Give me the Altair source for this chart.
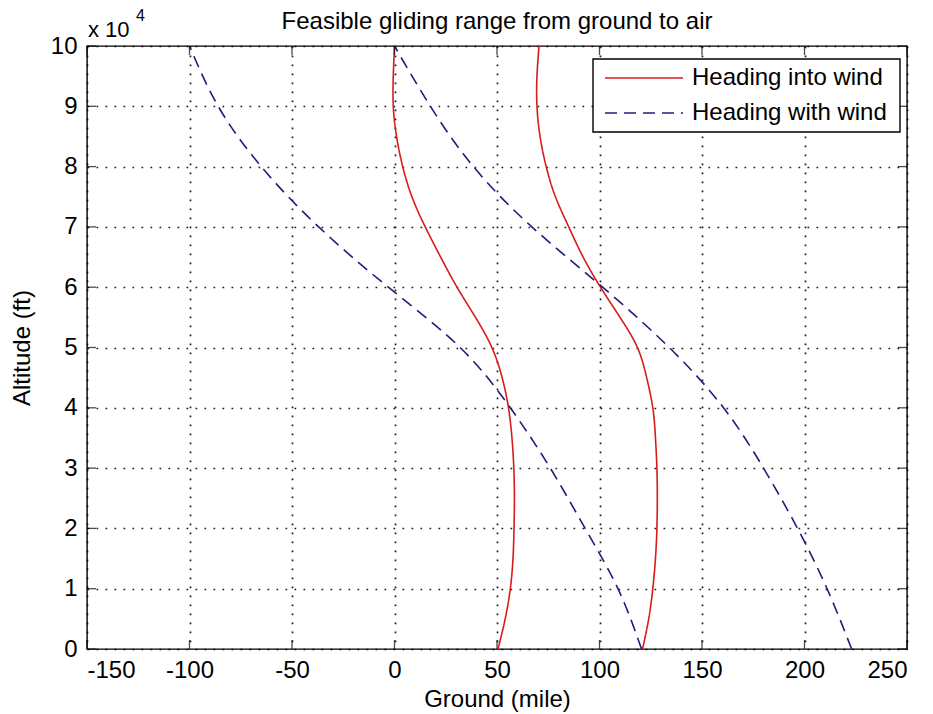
import altair as alt
import pandas as pd

# ---------------- data ----------------
alt_fine = list(range(0, 100001, 5000))          # altitude (ft) for red curves
red_left = [50.5, 54, 56.5, 57.8, 58.3, 58.5, 58.2, 57.3, 55.6, 52.5, 47.5,
            39.5, 30.5, 22.5, 15, 8.5, 4, 1, -0.6, -0.6, 0]
red_right = [121, 124, 126, 127.3, 128, 128.2, 128, 127.3, 126, 123, 118.5,
             110, 100.5, 92, 85, 78.5, 74, 71, 69.5, 69.5, 70.5]

alt_coarse = list(range(0, 100001, 10000))       # altitude (ft) for blue curves
blue_left = [120.5, 109, 93, 76, 56.5, 32, -3, -37, -65, -86, -100]
blue_right = [223, 211, 196.6, 180, 160.5, 134, 101.5, 67, 38.5, 17.5, 0]

series_names = ["Heading into wind", "Heading with wind"]
x_tick_values = [-150, -100, -50, 0, 50, 100, 150, 200, 250]
y_tick_values = alt_coarse
title_text = "Feasible gliding range from ground to air"

RED = "#d81c1c"
BLUE = "#1f1f7a"
FONT = "Liberation Sans"
FS = 24

rows = []
for a, g in zip(alt_fine, red_left):
    rows.append({"altitude": a, "ground": g, "series": series_names[0], "branch": "into_left"})
for a, g in zip(alt_fine, red_right):
    rows.append({"altitude": a, "ground": g, "series": series_names[0], "branch": "into_right"})
for a, g in zip(alt_coarse, blue_left):
    rows.append({"altitude": a, "ground": g, "series": series_names[1], "branch": "with_left"})
for a, g in zip(alt_coarse, blue_right):
    rows.append({"altitude": a, "ground": g, "series": series_names[1], "branch": "with_right"})
df = pd.DataFrame(rows)

W, H = 820, 603
xscale = alt.Scale(domain=[-150, 250], nice=False, zero=False)
yscale = alt.Scale(domain=[0, 100000], nice=False, zero=False)

grid_kw = dict(grid=True, gridColor="#000000", gridOpacity=0.9, gridWidth=1.7,
               gridDash=[1.7, 7.3], domain=False, ticks=False, tickSize=0,
               labelFont=FONT, labelFontSize=FS, labelColor="#000000",
               titleFont=FONT, titleFontSize=FS, titleFontWeight="normal",
               titleColor="#000000")

lines = alt.Chart(df).mark_line(strokeWidth=1.6, interpolate="natural").encode(
    x=alt.X("ground:Q", scale=xscale,
            axis=alt.Axis(values=x_tick_values, title="Ground (mile)", labelPadding=9,
                          labelExpr="datum.value < 0 ? '-' + abs(datum.value) : '' + datum.value",
                          titleY=38, titleBaseline="top", **grid_kw)),
    y=alt.Y("altitude:Q", scale=yscale,
            axis=alt.Axis(values=y_tick_values, labelExpr="'' + datum.value / 10000",
                          title="Altitude (ft)", labelPadding=10,
                          titleX=-64.5, titleY=301.5, titleAngle=270,
                          titleBaseline="middle", titleAlign="center", **grid_kw)),
    color=alt.Color("series:N", scale=alt.Scale(domain=series_names, range=[RED, BLUE]), legend=None),
    strokeDash=alt.StrokeDash("series:N", scale=alt.Scale(domain=series_names, range=[[1, 0], [12, 7]]),
                              legend=None),
    detail="branch:N",
    order="altitude:Q",
)

# inward ticks (MATLAB style box ticks)
xt = pd.DataFrame({"ground": x_tick_values})
yt = pd.DataFrame({"altitude": y_tick_values})
tick_style = dict(color="#000000", thickness=1.3, size=9)
xt_bottom = alt.Chart(xt).mark_tick(orient="vertical", **tick_style).encode(
    x=alt.X("ground:Q", scale=xscale), y=alt.value(H - 4.5))
xt_top = alt.Chart(xt).mark_tick(orient="vertical", **tick_style).encode(
    x=alt.X("ground:Q", scale=xscale), y=alt.value(4.5))
yt_left = alt.Chart(yt).mark_tick(orient="horizontal", **tick_style).encode(
    y=alt.Y("altitude:Q", scale=yscale), x=alt.value(4.5))
yt_right = alt.Chart(yt).mark_tick(orient="horizontal", **tick_style).encode(
    y=alt.Y("altitude:Q", scale=yscale), x=alt.value(W - 4.5))

one = pd.DataFrame({"k": [0]})

# chart title
title_mark = alt.Chart(one).mark_text(text=title_text, font=FONT, fontSize=FS, align="center",
                                      baseline="alphabetic", color="#000000").encode(
    x=alt.value(W / 2), y=alt.value(-17))

# exponent label "x 10^4"
exp_base = alt.Chart(one).mark_text(text="x 10", font=FONT, fontSize=22, align="left",
                                    baseline="alphabetic", color="#000000").encode(
    x=alt.value(1), y=alt.value(-9))
exp_pow = alt.Chart(one).mark_text(text="4", font=FONT, fontSize=16, align="left",
                                   baseline="alphabetic", color="#000000").encode(
    x=alt.value(49), y=alt.value(-25))

# legend box (MATLAB style, inside top right)
leg_box = alt.Chart(one).mark_rect(fill="#ffffff", stroke="#000000", strokeWidth=1.4).encode(
    x=alt.value(506), x2=alt.value(813), y=alt.value(13), y2=alt.value(86))
leg_red = alt.Chart(one).mark_rule(color=RED, strokeWidth=1.6).encode(
    x=alt.value(518), x2=alt.value(596), y=alt.value(32))
leg_blue = alt.Chart(one).mark_rule(color=BLUE, strokeWidth=1.6, strokeDash=[12, 7]).encode(
    x=alt.value(518), x2=alt.value(596), y=alt.value(67))
leg_t1 = alt.Chart(one).mark_text(text=series_names[0], font=FONT, fontSize=FS, align="left",
                                  baseline="middle", color="#000000").encode(
    x=alt.value(605), y=alt.value(32))
leg_t2 = alt.Chart(one).mark_text(text=series_names[1], font=FONT, fontSize=FS, align="left",
                                  baseline="middle", color="#000000").encode(
    x=alt.value(605), y=alt.value(67))

chart = alt.layer(
    lines, xt_bottom, xt_top, yt_left, yt_right, title_mark, exp_base, exp_pow,
    leg_box, leg_red, leg_blue, leg_t1, leg_t2
).properties(
    width=W, height=H,
    autosize=alt.AutoSizeParams(type="none"),
    padding={"left": 87, "top": 46, "right": 26, "bottom": 65},
    background="#ffffff",
).configure_view(
    stroke="#000000", strokeWidth=1.4
)

chart.save("out.html", embed_options={"renderer": "svg", "actions": False})
